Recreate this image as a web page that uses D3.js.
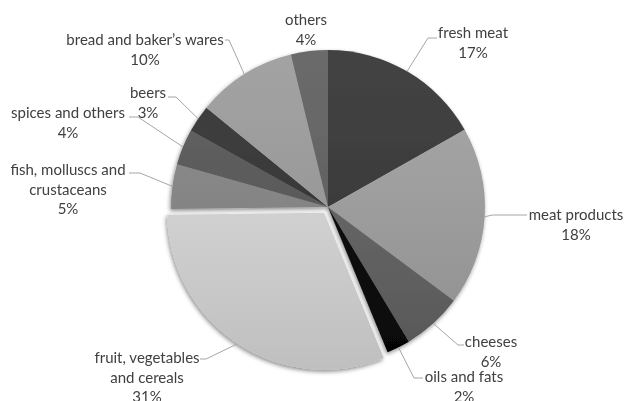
<html>
<head>
    <script src="https://d3js.org/d3.v7.min.js"></script>
    <style>
        body { margin: 0; background: #fff; }
        text { font-family: Lato, "Open Sans", sans-serif; font-size: 15px; fill: #404040; }
    </style>
</head>
<body></body>
<script>

    // data (clockwise from 12 o'clock)
    var categories = ["fresh meat", "meat products", "cheeses", "oils and fats",
        "fruit, vegetables\nand cereals", "fish, molluscs and\ncrustaceans",
        "spices and others", "beers", "bread and baker’s wares", "others"];
    var shares = [16.8, 18.4, 6.2, 2.4, 31.0, 4.6, 3.7, 2.8, 10.3, 3.8];
    var percentLabels = ["17%", "18%", "6%", "2%", "31%", "5%", "4%", "3%", "10%", "4%"];

    // styling
    var fills = ["#333333", "#a0a0a0", "#626262", "#050505", "#d9d9d9",
        "#858585", "#555555", "#303030", "#9b9b9b", "#5e5e5e"];
    var exploded = 4;

    // label placement: first line centre, leader elbow and end
    var labelLayout = [
        { x: 473, y: 33, elbow: [428, 38], end: 437 },
        { x: 576, y: 215, elbow: [492, 215], end: 527 },
        { x: 491, y: 342, elbow: [458, 345], end: 464 },
        { x: 464, y: 377, elbow: [414, 378], end: 423 },
        { x: 147, y: 358, elbow: [206, 359], end: 200 },
        { x: 68, y: 170, elbow: [140, 173], end: 129 },
        { x: 68, y: 113, elbow: [138, 117], end: 129 },
        { x: 148, y: 93, elbow: [176, 97], end: 168 },
        { x: 145, y: 40, elbow: [229, 40], end: 225 },
        { x: 306, y: 20, elbow: null }
    ];

    var width = 626, height = 401;
    var cx = 328, cy = 207, r = 157, explode = 7;

    var svg = d3.select("body")
        .append("svg")
        .attr("width", width)
        .attr("height", height);

    var defs = svg.append("defs");

    var shade = defs.append("linearGradient")
        .attr("id", "shade")
        .attr("gradientUnits", "userSpaceOnUse")
        .attr("x1", 0).attr("y1", -r)
        .attr("x2", 0).attr("y2", r);
    shade.append("stop").attr("offset", "0%").attr("stop-color", "#fff").attr("stop-opacity", 0.08);
    shade.append("stop").attr("offset", "100%").attr("stop-color", "#000").attr("stop-opacity", 0.12);

    defs.append("filter")
        .attr("id", "shadow")
        .attr("x", "-20%").attr("y", "-20%")
        .attr("width", "140%").attr("height", "140%")
        .append("feDropShadow")
        .attr("dx", -1).attr("dy", 2)
        .attr("stdDeviation", 2)
        .attr("flood-color", "#000")
        .attr("flood-opacity", 0.45);

    var pie = d3.pie().sort(null).value(function (d) { return d; });
    var arcs = pie(shares);

    var arc = d3.arc().innerRadius(0).outerRadius(r);

    function offset(d, i) {
        if (i !== exploded) return [0, 0];
        var a = (d.startAngle + d.endAngle) / 2;
        return [Math.sin(a) * explode, -Math.cos(a) * explode];
    }

    var g = svg.append("g")
        .attr("transform", "translate(" + cx + "," + cy + ")");

    var slices = g.append("g").attr("filter", "url(#shadow)")
        .selectAll("g")
        .data(arcs)
        .enter()
        .append("g")
        .attr("transform", function (d, i) {
            var o = offset(d, i);
            return "translate(" + o[0] + "," + o[1] + ")";
        });

    slices.append("path")
        .attr("d", arc)
        .style("fill", function (d, i) { return fills[i]; });

    slices.append("path")
        .attr("d", arc)
        .style("fill", "url(#shade)");

    // leader lines
    svg.append("g")
        .selectAll("polyline")
        .data(arcs.filter(function (d, i) { return labelLayout[i].elbow; }))
        .enter()
        .append("polyline")
        .attr("points", function (d) {
            var i = d.index;
            var a = (d.startAngle + d.endAngle) / 2;
            var o = offset(d, i);
            var sx = cx + o[0] + Math.sin(a) * r;
            var sy = cy + o[1] - Math.cos(a) * r;
            var L = labelLayout[i];
            return [[sx, sy], L.elbow, [L.end, L.elbow[1]]].join(" ");
        })
        .style("fill", "none")
        .style("stroke", "#a6a6a6")
        .style("stroke-width", 1);

    // labels
    var labels = svg.append("g")
        .selectAll("text")
        .data(arcs)
        .enter()
        .append("text")
        .attr("text-anchor", "middle")
        .attr("x", function (d, i) { return labelLayout[i].x; })
        .attr("y", function (d, i) { return labelLayout[i].y; });

    labels.each(function (d, i) {
        var lines = categories[i].split("\n").concat([percentLabels[i]]);
        var t = d3.select(this);
        lines.forEach(function (s, k) {
            t.append("tspan")
                .attr("x", labelLayout[i].x)
                .attr("y", labelLayout[i].y + k * 19.5)
                .attr("dy", "0.35em")
                .text(s);
        });
    });

</script>
</html>
